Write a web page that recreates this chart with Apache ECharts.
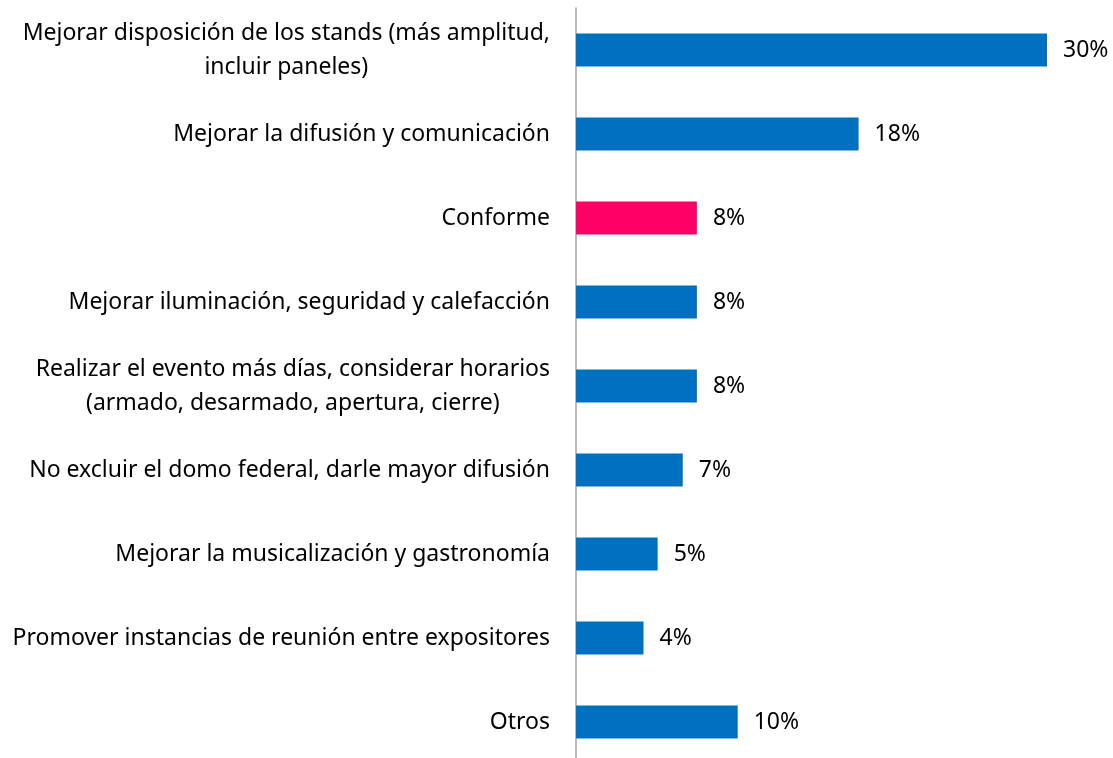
<!DOCTYPE html>
<html>
<head>
<meta charset="utf-8">
<script src="https://cdn.jsdelivr.net/npm/echarts@6/dist/echarts.min.js"></script>
<style>
html,body{margin:0;padding:0;background:#fff;}
#chart{width:1113px;height:758px;}
</style>
</head>
<body>
<div id="chart"></div>
<script>
var categories = [
  "Mejorar disposición de los stands (más amplitud,\nincluir paneles)",
  "Mejorar la difusión y comunicación",
  "Conforme",
  "Mejorar iluminación, seguridad y calefacción",
  "Realizar el evento más días, considerar horarios\n(armado, desarmado, apertura, cierre)",
  "No excluir el domo federal, darle mayor difusión",
  "Mejorar la musicalización y gastronomía",
  "Promover instancias de reunión entre expositores",
  "Otros"
];
var values = [30, 18, 7.7, 7.7, 7.7, 6.8, 5.2, 4.3, 10.3];
var valueLabels = ["30%", "18%", "8%", "8%", "8%", "7%", "5%", "4%", "10%"];
var highlighted = ["Conforme"];

var FONT = "Noto Sans";
var FS = 23;
var chart = echarts.init(document.getElementById('chart'), null, {renderer: 'canvas'});
var data = values.map(function (v, i) {
  return {
    value: v,
    itemStyle: {color: highlighted.indexOf(categories[i]) >= 0 ? '#FF0066' : '#0070C0'}
  };
});
chart.setOption({
  animation: false,
  backgroundColor: '#ffffff',
  grid: {left: 576, width: 502.4, top: 8, height: 756, containLabel: false, outerBoundsMode: 'none'},
  xAxis: {
    type: 'value', min: 0, max: 32,
    show: false
  },
  yAxis: {
    type: 'category',
    inverse: true,
    data: categories,
    axisLine: {show: true, lineStyle: {color: '#a6a6a6', width: 1.5}},
    axisTick: {show: false},
    splitLine: {show: false},
    axisLabel: {
      margin: 26,
      formatter: function (val) {
        return val.split('\n').map(function (l) { return '{c|' + l + '}'; }).join('\n');
      },
      rich: {
        c: {fontFamily: FONT, fontSize: FS, color: '#000000', align: 'center', lineHeight: 34}
      },
      fontFamily: FONT, fontSize: FS, color: '#000000', lineHeight: 34
    }
  },
  series: [{
    type: 'bar',
    data: data,
    barWidth: 33,
    label: {
      show: true,
      position: 'right',
      distance: 16,
      fontFamily: FONT,
      fontSize: FS,
      color: '#000000',
      formatter: function (p) { return valueLabels[p.dataIndex]; }
    }
  }]
});
</script>
</body>
</html>
